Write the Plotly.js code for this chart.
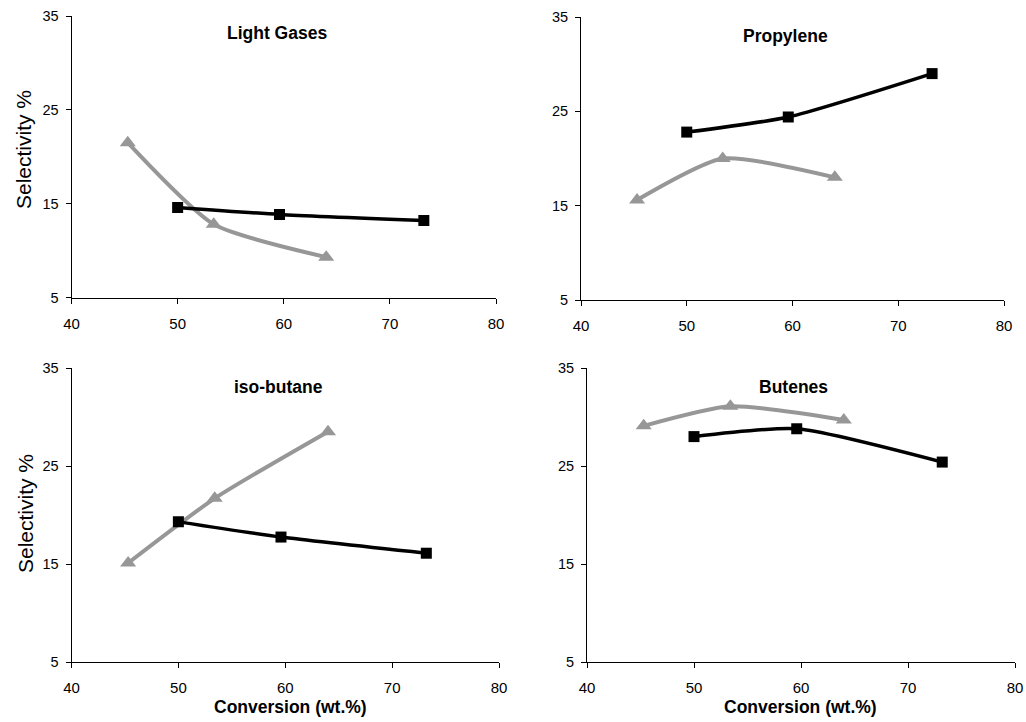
<!DOCTYPE html>
<html>
<head>
<meta charset="utf-8">
<script src="https://cdn.plot.ly/plotly-3.0.1.min.js"></script>
<style>html,body{margin:0;padding:0;background:#fff;}#chart{width:1026px;height:722px;}</style>
</head>
<body>
<div id="chart"></div>
<script>
// Data
const panelTitles = ["Light Gases", "Propylene", "iso-butane", "Butenes"];
const convBlack = [50, 59.6, 73.2];
const convGray = [45.3, 53.4, 64];
const lightGasesBlack = [14.6, 13.85, 13.2];
const lightGasesGray = [21.5, 12.8, 9.3];
const propyleneBlack = [22.8, 24.4, 29.0];
const propyleneGray = [15.6, 20.0, 18.0];
const isoButaneBlack = [19.3, 17.75, 16.1];
const isoButaneGray = [15.1, 21.7, 28.5];
const butenesBlack = [28.0, 28.8, 25.4];
const butenesGray = [29.1, 31.1, 29.7];
const xTicks = [40, 50, 60, 70, 80];
const yTicks = [5, 15, 25, 35];
const yTitle = "Selectivity %";
const xTitle = "Conversion (wt.%)";

const blackSeries = [lightGasesBlack, propyleneBlack, isoButaneBlack, butenesBlack];
const graySeries = [lightGasesGray, propyleneGray, isoButaneGray, butenesGray];

const W = 1026, H = 722;
const FONT = "Liberation Sans, Arial, sans-serif";
const px = (a, b) => [a / W, b / W];
const py = (top, bottom) => [(H - bottom) / H, (H - top) / H];
const domains = [
  {x: px(71.5, 496), y: py(16, 297.5)},
  {x: px(581, 1004), y: py(17, 300)},
  {x: px(71.5, 499), y: py(368, 662)},
  {x: px(587, 1015), y: py(368, 662)}
];

const traces = [];
const layout = {
  width: W, height: H,
  margin: {l: 0, r: 0, t: 0, b: 0},
  paper_bgcolor: "#ffffff",
  plot_bgcolor: "#ffffff",
  showlegend: false,
  font: {family: FONT, color: "#000"},
  annotations: []
};

function addText(text, x, y, size, angle) {
  layout.annotations.push({
    text: text, xref: "paper", yref: "paper",
    x: x / W, y: 1 - y / H, xanchor: "center", yanchor: "middle",
    showarrow: false, textangle: angle || 0,
    font: {size: size, family: FONT, color: "#000"}
  });
}

for (let i = 0; i < 4; i++) {
  const n = i === 0 ? "" : String(i + 1);
  const xa = "x" + n, ya = "y" + n;
  traces.push({
    x: convGray, y: graySeries[i], xaxis: xa, yaxis: ya,
    type: "scatter", mode: "lines+markers",
    line: {color: "#979797", width: 4, shape: "spline", smoothing: 0.6},
    marker: {symbol: "triangle-up", size: 14, color: "#979797"}
  });
  traces.push({
    x: convBlack, y: blackSeries[i], xaxis: xa, yaxis: ya,
    type: "scatter", mode: "lines+markers",
    line: {color: "#000000", width: 3.5, shape: "spline", smoothing: 0.6},
    marker: {symbol: "square", size: 11, color: "#000000"}
  });
  layout["xaxis" + n] = {
    domain: domains[i].x, anchor: ya, range: [40, 80],
    tickvals: xTicks, ticktext: xTicks.map(String),
    showgrid: false, zeroline: false, showline: true, linecolor: "#000", linewidth: 1,
    ticks: "outside", ticklen: 5, tickcolor: "#000", tickwidth: 1,
    tickfont: {size: 15, family: FONT, color: "#000"},
    ticklabelstandoff: 7
  };
  layout["yaxis" + n] = {
    domain: domains[i].y, anchor: xa, range: [5, 35],
    tickvals: yTicks, ticktext: yTicks.map(String),
    showgrid: false, zeroline: false, showline: true, linecolor: "#000", linewidth: 1,
    ticks: "outside", ticklen: 5, tickcolor: "#000", tickwidth: 1,
    tickfont: {size: 14.5, family: FONT, color: "#000"},
    ticklabelstandoff: 4
  };
  const tx = [277, 785, 278, 793][i];
  const ty = [33, 36, 387, 387][i];
  addText("<b>" + panelTitles[i] + "</b>", tx, ty, 17.5);
}
addText(yTitle, 23, 150, 21, -90);
addText(yTitle, 25, 514, 21, -90);
addText("<b>" + xTitle + "</b>", 290, 707, 17.5);
addText("<b>" + xTitle + "</b>", 800, 707, 17.5);

Plotly.newPlot("chart", traces, layout, {displayModeBar: false, staticPlot: true});
</script>
</body>
</html>
